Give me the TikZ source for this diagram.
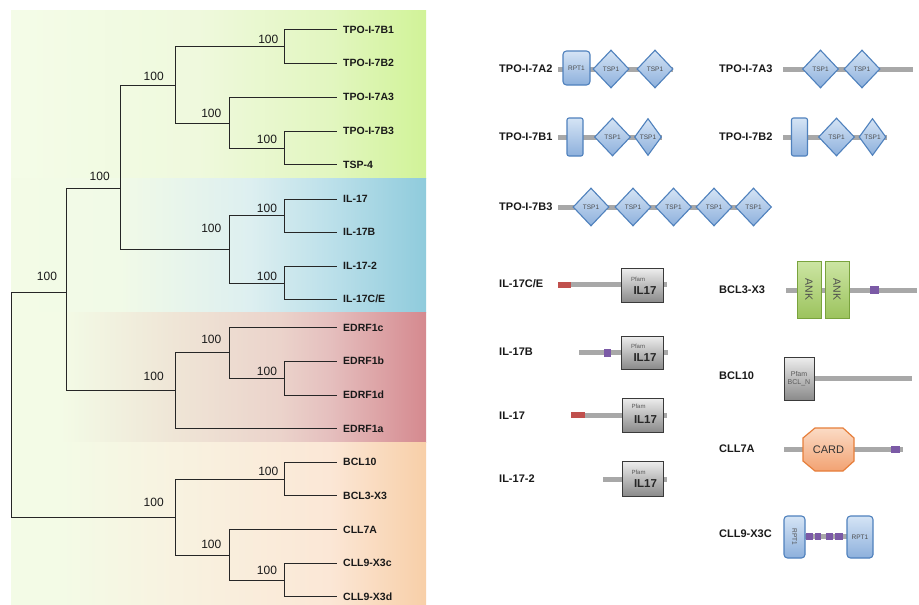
\documentclass[tikz,border=0pt]{standalone}
\usepackage{fontspec}
\setmainfont{Liberation Sans}
\usetikzlibrary{shapes.geometric}
\definecolor{panel}{HTML}{F3FBE6}
\definecolor{gA}{HTML}{F4FCE8}\definecolor{gB}{HTML}{EFF9DD}\definecolor{gC}{HTML}{E2F6C0}\definecolor{gD}{HTML}{D1F398}
\definecolor{bA}{HTML}{F1FAE7}\definecolor{bB}{HTML}{DDEFF0}\definecolor{bC}{HTML}{BCE0EA}\definecolor{bD}{HTML}{8FCBDC}
\definecolor{rB}{HTML}{EFE5D6}\definecolor{rB2}{HTML}{EBD3CB}\definecolor{rC}{HTML}{E5BFBE}\definecolor{rD}{HTML}{D5898F}
\definecolor{oB}{HTML}{F8F2E0}\definecolor{oC}{HTML}{FBE7D6}\definecolor{oD}{HTML}{F8CFA8}
\definecolor{bbgray}{HTML}{A8A8A8}
\definecolor{tspB}{HTML}{4F81BD}\definecolor{tspT}{HTML}{D5E4F5}\definecolor{tspD}{HTML}{8DB0DC}
\definecolor{pfB}{HTML}{3A3A3A}\definecolor{pfT}{HTML}{EEEEEE}\definecolor{pfD}{HTML}{8A8A8A}
\definecolor{ankB}{HTML}{79A33D}\definecolor{ankT}{HTML}{CCE5A3}\definecolor{ankD}{HTML}{9CC35E}
\definecolor{cardB}{HTML}{E67E3A}\definecolor{cardT}{HTML}{FBDBC5}\definecolor{cardD}{HTML}{F2A272}
\definecolor{redm}{HTML}{C0504D}\definecolor{purm}{HTML}{7B5AA6}
\pgfdeclarehorizontalshading{gshade}{100bp}{color(0bp)=(gA); color(25bp)=(gA); color(47.5bp)=(gB); color(63.5bp)=(gC); color(75bp)=(gD); color(100bp)=(gD)}
\pgfdeclarehorizontalshading{bshade}{100bp}{color(0bp)=(panel); color(25bp)=(panel); color(38.1bp)=(bA); color(53.8bp)=(bB); color(63.4bp)=(bC); color(75bp)=(bD); color(100bp)=(bD)}
\pgfdeclarehorizontalshading{rshade}{100bp}{color(0bp)=(panel); color(25bp)=(panel); color(30.9bp)=(panel); color(44.8bp)=(rB); color(57.4bp)=(rB2); color(63.4bp)=(rC); color(75bp)=(rD); color(100bp)=(rD)}
\pgfdeclarehorizontalshading{oshade}{100bp}{color(0bp)=(panel); color(25bp)=(panel); color(30.9bp)=(panel); color(44.8bp)=(oB); color(63.4bp)=(oC); color(75bp)=(oD); color(100bp)=(oD)}
\tikzset{
  br/.style={draw=black!85, line width=1pt},
  leaflbl/.style={anchor=west, inner xsep=6pt, inner ysep=0pt, font=\fontsize{10.5}{12}\selectfont\bfseries, text=black!90},
  bs/.style={inner sep=0pt, font=\fontsize{12}{14}\selectfont, text=black!90},
  prot/.style={anchor=west, inner sep=0pt, font=\fontsize{11}{13}\selectfont\bfseries, text=black!90},
  bb/.style={draw=bbgray, line width=5pt},
  tsp/.style={diamond, draw=tspB, line width=1.1pt, top color=tspT, bottom color=tspD, minimum width=36pt, minimum height=38pt, inner sep=0pt, font=\fontsize{6.5}{7}\selectfont, text=black!70},
  tspn/.style={tsp, minimum width=27pt, minimum height=37pt},
  rpt/.style={rectangle, rounded corners=3.5pt, draw=tspB, line width=1.1pt, top color=tspT, bottom color=tspD, inner sep=0pt, font=\fontsize{6.5}{7}\selectfont, text=black!70},
  pfam/.style={rectangle, draw=pfB, line width=1pt, top color=pfT, bottom color=pfD, inner sep=0pt},
  pft/.style={inner sep=0pt, font=\fontsize{6}{7}\selectfont, text=black!65},
  ilt/.style={inner sep=0pt, font=\fontsize{11.5}{13}\selectfont\bfseries, text=black!85},
  ank/.style={rectangle, draw=ankB, line width=1pt, top color=ankT, bottom color=ankD, minimum width=24pt, minimum height=57pt, inner sep=0pt},
  ankt/.style={inner sep=0pt, rotate=-90, font=\fontsize{10.5}{12}\selectfont, text=black!70}
}
\begin{document}
\begin{tikzpicture}[x=1pt,y=-1pt]
\useasboundingbox (0,0) rectangle (919,605);
\fill[white] (0,0) rectangle (919,605);
% background panel
\fill[panel] (11,10) rectangle (426,604);
\shade[shading=gshade] (11,10) rectangle (426,178);
\shade[shading=bshade] (11,178) rectangle (426,312);
\shade[shading=rshade] (11,312) rectangle (426,442);
\shade[shading=oshade] (11,442.5) rectangle (426,604);
% tree internal nodes
\coordinate (root) at (11,404);
\coordinate (nA) at (66,292);
\coordinate (nB) at (120,188);
\coordinate (nC) at (175,85);
\coordinate (n12) at (284,46.5);
\coordinate (nD) at (229,123);
\coordinate (n45) at (284,148);
\coordinate (nIL) at (229,249);
\coordinate (n67) at (284,215.5);
\coordinate (n89) at (284,283);
\coordinate (nE) at (175,390);
\coordinate (nE2) at (229,352);
\coordinate (nE3) at (284,378);
\coordinate (nO) at (175,517);
\coordinate (nBCL) at (284,479);
\coordinate (nCLL) at (229,555);
\coordinate (nCLL9) at (284,580);
% leaves
\node[leaflbl] (L1) at (337,29.5) {TPO-I-7B1};
\node[leaflbl] (L2) at (337,63) {TPO-I-7B2};
\node[leaflbl] (L3) at (337,97) {TPO-I-7A3};
\node[leaflbl] (L4) at (337,131) {TPO-I-7B3};
\node[leaflbl] (L5) at (337,164.5) {TSP-4};
\node[leaflbl] (L6) at (337,199) {IL-17};
\node[leaflbl] (L7) at (337,232) {IL-17B};
\node[leaflbl] (L8) at (337,266) {IL-17-2};
\node[leaflbl] (L9) at (337,299) {IL-17C/E};
\node[leaflbl] (L10) at (337,327.5) {EDRF1c};
\node[leaflbl] (L11) at (337,361) {EDRF1b};
\node[leaflbl] (L12) at (337,395) {EDRF1d};
\node[leaflbl] (L13) at (337,428.5) {EDRF1a};
\node[leaflbl] (L14) at (337,462) {BCL10};
\node[leaflbl] (L15) at (337,495.5) {BCL3-X3};
\node[leaflbl] (L16) at (337,529.5) {CLL7A};
\node[leaflbl] (L17) at (337,563) {CLL9-X3c};
\node[leaflbl] (L18) at (337,596.5) {CLL9-X3d};
% branches
\draw[br] (root) |- (nA); \draw[br] (root) |- (nO);
\draw[br] (nA) |- (nB); \draw[br] (nA) |- (nE);
\draw[br] (nB) |- (nC); \draw[br] (nB) |- (nIL);
\draw[br] (nC) |- (n12); \draw[br] (nC) |- (nD);
\draw[br] (n12) |- (L1.west); \draw[br] (n12) |- (L2.west);
\draw[br] (nD) |- (L3.west); \draw[br] (nD) |- (n45);
\draw[br] (n45) |- (L4.west); \draw[br] (n45) |- (L5.west);
\draw[br] (nIL) |- (n67); \draw[br] (nIL) |- (n89);
\draw[br] (n67) |- (L6.west); \draw[br] (n67) |- (L7.west);
\draw[br] (n89) |- (L8.west); \draw[br] (n89) |- (L9.west);
\draw[br] (nE) |- (nE2); \draw[br] (nE) |- (L13.west);
\draw[br] (nE2) |- (L10.west); \draw[br] (nE2) |- (nE3);
\draw[br] (nE3) |- (L11.west); \draw[br] (nE3) |- (L12.west);
\draw[br] (nO) |- (nBCL); \draw[br] (nO) |- (nCLL);
\draw[br] (nBCL) |- (L14.west); \draw[br] (nBCL) |- (L15.west);
\draw[br] (nCLL) |- (L16.west); \draw[br] (nCLL) |- (nCLL9);
\draw[br] (nCLL9) |- (L17.west); \draw[br] (nCLL9) |- (L18.west);
% bootstrap values
\node[bs] (bA) at (47,276.3) {100};
\node[bs] (bB) at (99.7,176.3) {100};
\node[bs] (bC) at (153.7,76.3) {100};
\node[bs] (b12) at (268.3,39.7) {100};
\node[bs] (bD) at (211.3,113.3) {100};
\node[bs] (b45) at (267,139.7) {100};
\node[bs] (bIL) at (211.3,228.7) {100};
\node[bs] (b67) at (267,208) {100};
\node[bs] (b89) at (267,276.3) {100};
\node[bs] (bE2) at (211.3,339.7) {100};
\node[bs] (bE3) at (267,371.3) {100};
\node[bs] (bE) at (153.7,376.3) {100};
\node[bs] (bBCL) at (268.3,471.3) {100};
\node[bs] (bO) at (153.7,502.3) {100};
\node[bs] (bCLL) at (211.3,544.7) {100};
\node[bs] (bCLL9) at (267,570.7) {100};
% ---------------- domain architectures ----------------
% TPO-I-7A2
\node[prot] (pA2) at (499,69) {TPO-I-7A2};
\draw[bb] (558,69) -- (673,69);
\node[rpt, minimum width=27pt, minimum height=34pt] (a2r) at (576.5,68) {RPT1};
\node[tsp] (a2d1) at (611,69) {TSP1};
\node[tsp] (a2d2) at (655,69) {TSP1};
% TPO-I-7A3
\node[prot] (pA3) at (719,69) {TPO-I-7A3};
\draw[bb] (783,69) -- (913,69);
\node[tsp] (a3d1) at (820.5,69) {TSP1};
\node[tsp] (a3d2) at (862,69) {TSP1};
% TPO-I-7B1
\node[prot] (pB1) at (499,137) {TPO-I-7B1};
\draw[bb] (558,137) -- (662,137);
\node[rpt, rounded corners=2pt, minimum width=16pt, minimum height=38pt] (b1r) at (575,137) {};
\node[tsp] (b1d1) at (612.5,137) {TSP1};
\node[tspn] (b1d2) at (648,137) {TSP1};
% TPO-I-7B2
\node[prot] (pB2) at (719,137) {TPO-I-7B2};
\draw[bb] (783,137) -- (887,137);
\node[rpt, rounded corners=2pt, minimum width=16pt, minimum height=38pt] (b2r) at (799.5,137) {};
\node[tsp] (b2d1) at (836.5,137) {TSP1};
\node[tspn] (b2d2) at (872.5,137) {TSP1};
% TPO-I-7B3
\node[prot] (pB3) at (499,207) {TPO-I-7B3};
\draw[bb] (558,207) -- (770,207);
\node[tsp] (b3d1) at (591,207) {TSP1};
\node[tsp] (b3d2) at (633,207) {TSP1};
\node[tsp] (b3d3) at (673.5,207) {TSP1};
\node[tsp] (b3d4) at (714,207) {TSP1};
\node[tsp] (b3d5) at (753.5,207) {TSP1};
% IL-17C/E
\node[prot] (pCE) at (499,284) {IL-17C/E};
\draw[bb] (558,284.5) -- (667,284.5);
\fill[redm] (558,281.5) rectangle (571,287.5);
\node[pfam, minimum width=42pt, minimum height=34pt] (ce) at (642,285.3) {};
\node[pft] at ([xshift=-4pt,yshift=6pt]ce.center) {Pfam};
\node[ilt] at ([xshift=3pt,yshift=-5pt]ce.center) {IL17};
% IL-17B
\node[prot] (pIB) at (499,352) {IL-17B};
\draw[bb] (579,352.7) -- (668,352.7);
\fill[purm] (604,349) rectangle (611,357);
\node[pfam, minimum width=42pt, minimum height=33pt] (ib) at (642,352.5) {};
\node[pft] at ([xshift=-4pt,yshift=6pt]ib.center) {Pfam};
\node[ilt] at ([xshift=3pt,yshift=-5pt]ib.center) {IL17};
% IL-17
\node[prot] (pI) at (499,416) {IL-17};
\draw[bb] (571,415) -- (667,415);
\fill[redm] (571,412) rectangle (585,418);
\node[pfam, minimum width=41pt, minimum height=34pt] (ia) at (642.5,415) {};
\node[pft] at ([xshift=-4pt,yshift=9pt]ia.center) {Pfam};
\node[ilt] at ([xshift=3pt,yshift=-5pt]ia.center) {IL17};
% IL-17-2
\node[prot] (pI2) at (499,479) {IL-17-2};
\draw[bb] (603,479) -- (667,479);
\node[pfam, minimum width=41pt, minimum height=35pt] (i2) at (642.5,478.5) {};
\node[pft] at ([xshift=-4pt,yshift=6pt]i2.center) {Pfam};
\node[ilt] at ([xshift=3pt,yshift=-5pt]i2.center) {IL17};
% BCL3-X3
\node[prot] (pB3X) at (719,289.5) {BCL3-X3};
\draw[bb] (786,290) -- (917,290);
\node[ank] (k1) at (809,289.5) {};
\node[ank] (k2) at (837,289.5) {};
\node[ankt] at (k1.center) {ANK};
\node[ankt] at (k2.center) {ANK};
\fill[purm] (870,286) rectangle (879,294);
% BCL10
\node[prot] (pB10) at (719,376) {BCL10};
\draw[bb] (784,378) -- (912,378);
\node[pfam, minimum width=30pt, minimum height=43pt] (bcl) at (799,378.5) {};
\node[pft, font=\fontsize{7}{8}\selectfont] at ([yshift=5pt]bcl.center) {Pfam};
\node[pft, font=\fontsize{7}{8}\selectfont] at ([yshift=-4.5pt]bcl.center) {BCL\_N};
% CLL7A
\node[prot] (pC7) at (719,449) {CLL7A};
\draw[bb] (784,449.5) -- (903,449.5);
\path[draw=cardB, line width=1.2pt, top color=cardT, bottom color=cardD]
  (815,428) -- (843,428) -- (854,438) -- (854,461) -- (843,471) -- (815,471) -- (803,461) -- (803,438) -- cycle;
\node[inner sep=0pt, font=\fontsize{11}{13}\selectfont, text=black!80] (card) at (828.5,449.5) {CARD};
\fill[purm] (891,446) rectangle (900,453);
% CLL9-X3C
\node[prot] (pC9) at (719,534) {CLL9-X3C};
\draw[bb] (805,536.5) -- (847,536.5);
\foreach \a/\b in {806/813, 815/821, 826/833, 835/843} {\fill[purm] (\a,533) rectangle (\b,540);}
\node[rpt, minimum width=21pt, minimum height=42pt] (c9r1) at (794.5,537) {};
\node[inner sep=0pt, rotate=-90, font=\fontsize{6.5}{7}\selectfont, text=black!70] at (c9r1.center) {RPT1};
\node[rpt, minimum width=26pt, minimum height=42pt] (c9r2) at (860,537) {RPT1};
\end{tikzpicture}
\end{document}
